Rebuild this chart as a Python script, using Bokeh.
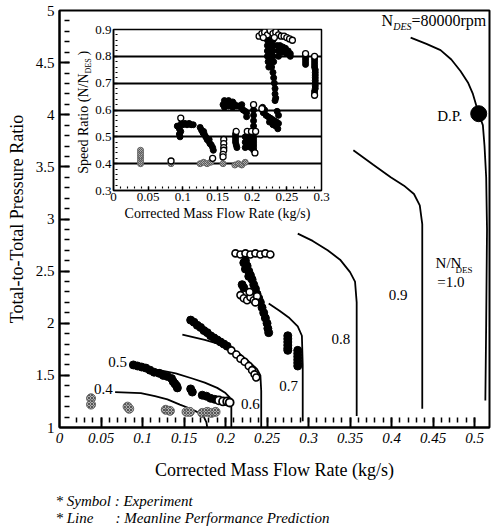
from bokeh.plotting import figure
from bokeh.models import Label, Range1d, SingleIntervalTicker, FixedTicker, CustomJSTickFormatter
from bokeh.embed import file_html
from bokeh.resources import INLINE

SERIF = "Liberation Serif"
PAGE_W, PAGE_H = 492, 531

# ---------------- main chart: meanline prediction lines ----------------
L04_x = [0.067, 0.098, 0.115, 0.130, 0.145, 0.158, 0.168, 0.174, 0.177, 0.178]
L04_y = [1.34, 1.33, 1.30, 1.27, 1.22, 1.18, 1.14, 1.10, 1.05, 1.00]
L05_x = [0.098, 0.120, 0.140, 0.160, 0.175, 0.190, 0.200, 0.205, 0.207, 0.207]
L05_y = [1.57, 1.55, 1.52, 1.47, 1.43, 1.38, 1.33, 1.29, 1.20, 1.00]
L06_x = [0.148, 0.175, 0.201, 0.215, 0.230, 0.238, 0.242, 0.243, 0.243]
L06_y = [1.89, 1.84, 1.78, 1.72, 1.62, 1.56, 1.50, 1.35, 1.00]
L07_x = [0.252, 0.265, 0.277, 0.287, 0.292, 0.293, 0.293]
L07_y = [2.19, 2.12, 2.05, 1.97, 1.88, 1.60, 1.06]
L08_x = [0.287, 0.305, 0.323, 0.338, 0.350, 0.356, 0.358, 0.358]
L08_y = [2.86, 2.79, 2.70, 2.61, 2.49, 2.40, 2.20, 1.11]
L09_x = [0.354, 0.378, 0.399, 0.415, 0.427, 0.434, 0.437, 0.437]
L09_y = [3.66, 3.52, 3.40, 3.32, 3.24, 3.13, 2.95, 1.18]
L10_x = [0.423, 0.442, 0.459, 0.472, 0.483, 0.492, 0.498, 0.505, 0.510, 0.512, 0.514, 0.515, 0.514, 0.513]
L10_y = [4.74, 4.68, 4.62, 4.53, 4.42, 4.31, 4.20, 4.01, 3.90, 3.70, 3.40, 2.90, 2.00, 1.26]

DP_x = [0.505]
DP_y = [4.01]

# ---------------- main chart: experiment symbols ----------------
E04_x = [0.038, 0.038, 0.082, 0.084, 0.128, 0.133, 0.153, 0.157, 0.172, 0.178, 0.183, 0.188]
E04_y = [1.28, 1.22, 1.20, 1.18, 1.17, 1.16, 1.15, 1.15, 1.14, 1.15, 1.14, 1.15]

E05f_x = [0.089, 0.094, 0.099, 0.104, 0.109, 0.114, 0.120, 0.125, 0.130, 0.135, 0.137, 0.139,
          0.141, 0.142, 0.158, 0.160, 0.172, 0.177, 0.182, 0.187]
E05f_y = [1.60, 1.59, 1.58, 1.57, 1.55, 1.53, 1.52, 1.50, 1.49, 1.47, 1.44, 1.42,
          1.40, 1.38, 1.37, 1.34, 1.31, 1.30, 1.28, 1.27]
E05o_x = [0.192, 0.197, 0.202, 0.205]
E05o_y = [1.26, 1.25, 1.25, 1.24]

E06f_x = [0.158, 0.162, 0.166, 0.170, 0.174, 0.178, 0.182, 0.186, 0.190, 0.194, 0.198, 0.202]
E06f_y = [2.03, 2.01, 1.98, 1.96, 1.93, 1.91, 1.88, 1.86, 1.84, 1.82, 1.80, 1.78]
E06o_x = [0.207, 0.213, 0.218, 0.223, 0.228, 0.232, 0.235, 0.237]
E06o_y = [1.74, 1.70, 1.66, 1.63, 1.59, 1.55, 1.51, 1.48]

E07o_x = [0.212, 0.218, 0.224, 0.230, 0.236, 0.242, 0.248, 0.254,
          0.218, 0.222, 0.226, 0.230, 0.234, 0.238, 0.229, 0.236]
E07o_y = [2.67, 2.66, 2.67, 2.66, 2.67, 2.66, 2.67, 2.66,
          2.27, 2.24, 2.22, 2.25, 2.22, 2.26, 2.30, 2.20]
E07f_x = [0.224, 0.226, 0.228, 0.230, 0.232, 0.234, 0.236, 0.238, 0.240, 0.242, 0.244, 0.246,
          0.248, 0.250, 0.251, 0.252, 0.222, 0.224, 0.228, 0.222, 0.220,
          0.275, 0.275, 0.275, 0.275, 0.275, 0.275, 0.287, 0.287, 0.287, 0.287, 0.287, 0.287]
E07f_y = [2.60, 2.55, 2.50, 2.46, 2.42, 2.37, 2.33, 2.28, 2.24, 2.20, 2.15, 2.10,
          2.05, 2.00, 1.95, 1.91, 2.58, 2.52, 2.45, 2.34, 2.37,
          1.88, 1.85, 1.82, 1.79, 1.76, 1.74, 1.74, 1.71, 1.68, 1.65, 1.62, 1.59]

main_x_ticks = [0, 0.05, 0.1, 0.15, 0.2, 0.25, 0.3, 0.35, 0.4, 0.45, 0.5]
main_y_ticks = [1, 1.5, 2, 2.5, 3, 3.5, 4, 4.5, 5]

# ---------------- inset: speed ratio vs mass flow ----------------
Ig_x = [0.039, 0.039, 0.039, 0.039, 0.039, 0.039, 0.083, 0.125, 0.130, 0.135, 0.140,
        0.158, 0.175, 0.180, 0.185, 0.190]
Ig_y = [0.40, 0.41, 0.42, 0.43, 0.44, 0.45, 0.40, 0.40, 0.405, 0.40, 0.405,
        0.40, 0.395, 0.40, 0.395, 0.405]

If_x = [0.092, 0.095, 0.095, 0.096, 0.098, 0.100, 0.103, 0.106, 0.109, 0.112, 0.115, 0.097,
        0.125, 0.127, 0.129, 0.131, 0.133, 0.135, 0.137, 0.139, 0.141, 0.143, 0.144, 0.138, 0.130,
        0.176, 0.176, 0.176, 0.176, 0.177, 0.178,
        0.190, 0.190, 0.190, 0.194, 0.194, 0.194, 0.198, 0.198, 0.198, 0.202, 0.202, 0.202,
        0.158, 0.160, 0.163, 0.166, 0.169, 0.172, 0.175, 0.178, 0.181, 0.184, 0.187, 0.190,
        0.192, 0.160, 0.166, 0.172, 0.192, 0.185,
        0.202, 0.202, 0.202, 0.202, 0.202, 0.202, 0.202, 0.202,
        0.215, 0.218, 0.216, 0.220, 0.223, 0.226, 0.229, 0.232, 0.235, 0.238, 0.230, 0.234,
        0.237, 0.225, 0.238, 0.236,
        0.222, 0.226, 0.230, 0.222, 0.226, 0.230, 0.222, 0.226, 0.230, 0.222, 0.226, 0.230,
        0.223, 0.227, 0.231, 0.224, 0.228, 0.230, 0.231, 0.232, 0.233, 0.233, 0.234, 0.233,
        0.236, 0.240, 0.244, 0.248, 0.252, 0.255, 0.238, 0.244, 0.250, 0.255, 0.238,
        0.277, 0.277, 0.277, 0.277,
        0.290, 0.290, 0.290, 0.290, 0.291, 0.291, 0.291, 0.291, 0.291, 0.291, 0.291, 0.291,
        0.290, 0.290]
If_y = [0.54, 0.53, 0.51, 0.50, 0.55, 0.545, 0.55, 0.545, 0.55, 0.545, 0.545, 0.52,
        0.535, 0.525, 0.515, 0.51, 0.50, 0.49, 0.485, 0.475, 0.47, 0.46, 0.45, 0.49, 0.52,
        0.51, 0.50, 0.49, 0.48, 0.47, 0.46,
        0.50, 0.48, 0.46, 0.505, 0.485, 0.465, 0.50, 0.48, 0.46, 0.49, 0.47, 0.45,
        0.62, 0.635, 0.63, 0.635, 0.625, 0.63, 0.62, 0.615, 0.615, 0.61, 0.60, 0.595,
        0.59, 0.61, 0.615, 0.61, 0.575, 0.62,
        0.60, 0.58, 0.56, 0.54, 0.52, 0.50, 0.48, 0.46,
        0.61, 0.60, 0.59, 0.58, 0.575, 0.57, 0.565, 0.56, 0.555, 0.55, 0.545, 0.54,
        0.53, 0.555, 0.58, 0.595,
        0.86, 0.86, 0.86, 0.84, 0.84, 0.84, 0.82, 0.82, 0.82, 0.80, 0.80, 0.80,
        0.78, 0.78, 0.78, 0.76, 0.76, 0.74, 0.72, 0.70, 0.68, 0.66, 0.645, 0.635,
        0.84, 0.84, 0.835, 0.83, 0.82, 0.81, 0.82, 0.815, 0.81, 0.80, 0.80,
        0.80, 0.79, 0.78, 0.77,
        0.79, 0.78, 0.77, 0.76, 0.75, 0.74, 0.73, 0.72, 0.71, 0.70, 0.69, 0.68,
        0.67, 0.66]

Io_x = [0.083, 0.097, 0.143, 0.159, 0.159, 0.159, 0.159, 0.158, 0.158, 0.177,
        0.193, 0.199, 0.205, 0.204, 0.202, 0.214,
        0.210, 0.214, 0.218, 0.222, 0.226, 0.230, 0.234, 0.238, 0.242, 0.246, 0.250,
        0.254, 0.258, 0.216, 0.232, 0.277, 0.290, 0.290]
Io_y = [0.41, 0.57, 0.42, 0.49, 0.475, 0.46, 0.45, 0.435, 0.425, 0.52,
        0.52, 0.52, 0.52, 0.44, 0.62, 0.605,
        0.875, 0.885, 0.89, 0.88, 0.895, 0.885, 0.89, 0.88, 0.875, 0.875, 0.87,
        0.865, 0.86, 0.87, 0.87, 0.81, 0.80, 0.655]

inset_x_ticks = [0, 0.05, 0.1, 0.15, 0.2, 0.25, 0.3]
inset_y_ticks = [0.3, 0.4, 0.5, 0.6, 0.7, 0.8, 0.9]
inset_grid = [0.4, 0.5, 0.6, 0.7, 0.8]

MAIN_X = (0, 0.518)
MAIN_Y = (1, 5)
INS_X = (0, 0.3)
INS_Y = (0.3, 0.9)

# frame borders (px) of the main chart and of the inset within the page
MAIN_B = dict(left=59, right=3, top=10, bottom=104)
INS_B = dict(left=113, right=171, top=29, bottom=341)

fmt = CustomJSTickFormatter(code="return String(parseFloat(tick.toFixed(3)));")
blank = CustomJSTickFormatter(code="return '';")
OVERLAY = {"position": "absolute", "left": "0px", "top": "0px"}


def lab(fig, x, y, text, size="15px", style="normal", align="center", baseline="middle", **kw):
    fig.add_layout(Label(x=x, y=y, text=text, text_font=SERIF, text_font_size=size,
                         text_font_style=style, text_align=align, text_baseline=baseline,
                         text_color="black", **kw))


def no_ticks(ax):
    ax.major_tick_in = 0
    ax.major_tick_out = 0
    ax.minor_tick_in = 0
    ax.minor_tick_out = 0


def page_fig(xr, yr, b, **kw):
    return figure(width=PAGE_W, height=PAGE_H, x_range=Range1d(*xr), y_range=Range1d(*yr),
                  output_backend="svg", toolbar_location=None,
                  min_border_left=b["left"], min_border_right=b["right"],
                  min_border_top=b["top"], min_border_bottom=b["bottom"], **kw)


# ======================= main figure =======================
p = page_fig(MAIN_X, MAIN_Y, MAIN_B)
p.grid.visible = False
p.outline_line_color = "black"
p.outline_line_width = 2
p.background_fill_color = "white"
p.border_fill_color = "white"

p.xaxis.ticker = FixedTicker(ticks=main_x_ticks)
p.yaxis.ticker = FixedTicker(ticks=main_y_ticks)
for ax in (p.xaxis[0], p.yaxis[0]):
    ax.formatter = fmt
    no_ticks(ax)
    ax.axis_line_width = 2
    ax.major_label_text_font = SERIF
    ax.major_label_text_font_size = "15px"
    ax.major_label_text_color = "black"
    ax.axis_label_text_font = SERIF
    ax.axis_label_text_font_size = "18px"
    ax.axis_label_text_font_style = "normal"
    ax.axis_label_text_color = "black"
    ax.major_label_standoff = 5
p.xaxis.major_label_text_font_style = "italic"
p.xaxis.axis_label = "Corrected Mass Flow Rate (kg/s)"
p.xaxis.axis_label_standoff = 14
p.yaxis.axis_label = "Total-to-Total Pressure Ratio"
p.yaxis.axis_label_standoff = 6

lines = [(L04_x, L04_y), (L05_x, L05_y), (L06_x, L06_y), (L07_x, L07_y),
         (L08_x, L08_y), (L09_x, L09_y), (L10_x, L10_y)]
for lx, ly in lines:
    p.line(lx, ly, line_color="black", line_width=1.8)

p.scatter(E04_x, E04_y, size=9, marker="circle", fill_color="#b0b0b0", line_color="#666666",
          line_width=1, hatch_pattern="x", hatch_color="#555555", hatch_scale=3)
p.scatter(E05f_x, E05f_y, size=8, marker="circle", fill_color="black", line_color="black")
p.scatter(E05o_x, E05o_y, size=8, marker="circle", fill_color="white", line_color="black", line_width=1.8)
p.scatter(E06f_x, E06f_y, size=8, marker="circle", fill_color="black", line_color="black")
p.scatter(E06o_x, E06o_y, size=7, marker="circle", fill_color="white", line_color="black", line_width=1.6)
p.scatter(E07f_x, E07f_y, size=8, marker="circle", fill_color="black", line_color="black")
p.scatter(E07o_x, E07o_y, size=7, marker="circle", fill_color="white", line_color="black", line_width=1.6)
p.scatter(DP_x, DP_y, size=16, marker="circle", fill_color="black", line_color="black")

lab(p, 0.053, 1.374, "0.4")
lab(p, 0.070, 1.633, "0.5")
lab(p, 0.230, 1.23, "0.6")
lab(p, 0.276, 1.40, "0.7")
lab(p, 0.339, 1.85, "0.8")
lab(p, 0.408, 2.27, "0.9")
lab(p, 0.455, 3.99, "D.P.", align="left")
lab(p, 0.388, 4.905, "N", size="16px", align="left")
lab(p, 0.402, 4.85, "DES", size="10px", style="italic", align="left")
lab(p, 0.424, 4.905, "=80000rpm", size="16px", align="left")
lab(p, 0.453, 2.575, "N/N", size="15px", align="left")
lab(p, 0.477, 2.51, "DES", size="9px", align="left")
lab(p, 0.455, 2.40, "=1.0", size="15px", align="left")

# ======================= inset figure (full-page overlay, frame placed by borders) ========
q = page_fig(INS_X, INS_Y, INS_B)
q.xgrid.visible = False
q.ygrid.ticker = FixedTicker(ticks=inset_grid)
q.ygrid.grid_line_color = "black"
q.ygrid.grid_line_width = 2
q.outline_line_color = "black"
q.outline_line_width = 1.5
q.border_fill_alpha = 0
q.background_fill_color = "white"
q.xaxis.ticker = FixedTicker(ticks=inset_x_ticks)
q.yaxis.ticker = FixedTicker(ticks=inset_y_ticks)
for ax in (q.xaxis[0], q.yaxis[0]):
    ax.formatter = fmt
    no_ticks(ax)
    ax.axis_line_width = 1.5
    ax.major_label_text_font = SERIF
    ax.major_label_text_font_size = "13px"
    ax.major_label_text_color = "black"
    ax.major_label_standoff = 2
q.xaxis.axis_label = "Corrected Mass Flow Rate (kg/s)"
q.xaxis.axis_label_text_font = SERIF
q.xaxis.axis_label_text_font_size = "14px"
q.xaxis.axis_label_text_font_style = "normal"
q.xaxis.axis_label_text_color = "black"
q.xaxis.axis_label_standoff = 2

q.scatter(Ig_x, Ig_y, size=6, marker="circle", fill_color="#b0b0b0", line_color="#666666",
          hatch_pattern="x", hatch_color="#555555", hatch_scale=2)
q.scatter(If_x, If_y, size=6, marker="circle", fill_color="black", line_color="black")
q.scatter(Io_x, Io_y, size=6, marker="circle", fill_color="white", line_color="black", line_width=1.3)
q.styles = OVERLAY


# ============ tick overlays (inward ticks drawn as outward ticks of a shrunk frame) ============
def tick_overlay(xr, yr, b, tlen, mlen, xint, yint, lw):
    fw = PAGE_W - b["left"] - b["right"]
    fh = PAGE_H - b["top"] - b["bottom"]
    dx = (xr[1] - xr[0]) * tlen / fw
    dy = (yr[1] - yr[0]) * tlen / fh
    bb = {k: v + tlen for k, v in b.items()}
    t = page_fig((xr[0] + dx, xr[1] - dx), (yr[0] + dy, yr[1] - dy), bb)
    t.grid.visible = False
    t.outline_line_color = None
    t.background_fill_alpha = 0
    t.border_fill_alpha = 0
    t.xaxis.ticker = SingleIntervalTicker(interval=xint, num_minor_ticks=5)
    t.yaxis.ticker = SingleIntervalTicker(interval=yint, num_minor_ticks=5)
    for ax in (t.xaxis[0], t.yaxis[0]):
        ax.formatter = blank
        ax.axis_line_color = None
        ax.major_tick_in = 0
        ax.major_tick_out = tlen
        ax.minor_tick_in = 0
        ax.minor_tick_out = mlen
        ax.major_tick_line_width = lw
        ax.minor_tick_line_width = lw * 0.75
        ax.major_tick_line_color = "black"
        ax.minor_tick_line_color = "black"
        ax.major_label_standoff = 0
    t.styles = OVERLAY
    return t


pt = tick_overlay(MAIN_X, MAIN_Y, MAIN_B, 10, 5, 0.05, 0.5, 2)
qt = tick_overlay(INS_X, INS_Y, INS_B, 4, 2, 0.05, 0.1, 1.5)

# ============ text overlay for notes outside the frames (page pixel coordinates) ============
tx = figure(width=PAGE_W, height=PAGE_H, x_range=Range1d(0, PAGE_W), y_range=Range1d(PAGE_H, 0),
            output_backend="svg", toolbar_location=None,
            x_axis_location=None, y_axis_location=None,
            min_border_left=0, min_border_right=0, min_border_top=0, min_border_bottom=0)
tx.grid.visible = False
tx.outline_line_color = None
tx.background_fill_alpha = 0
tx.border_fill_alpha = 0
lab(tx, 55, 500, "* Symbol : Experiment", size="15px", style="italic", align="left")
lab(tx, 55, 517, "* Line", size="15px", style="italic", align="left")
lab(tx, 115, 517, ": Meanline Performance Prediction", size="15px", style="italic", align="left")
lab(tx, 83, 73, "Speed Ratio (N/N", size="14px", align="right", angle=1.5708)
lab(tx, 88, 73, "DES", size="8px", align="left", angle=1.5708)
lab(tx, 83, 55, ")", size="14px", align="left", angle=1.5708)
tx.styles = OVERLAY

roots = [p, q, qt, pt, tx]
open("out.html", "w").write(file_html(roots, INLINE))
